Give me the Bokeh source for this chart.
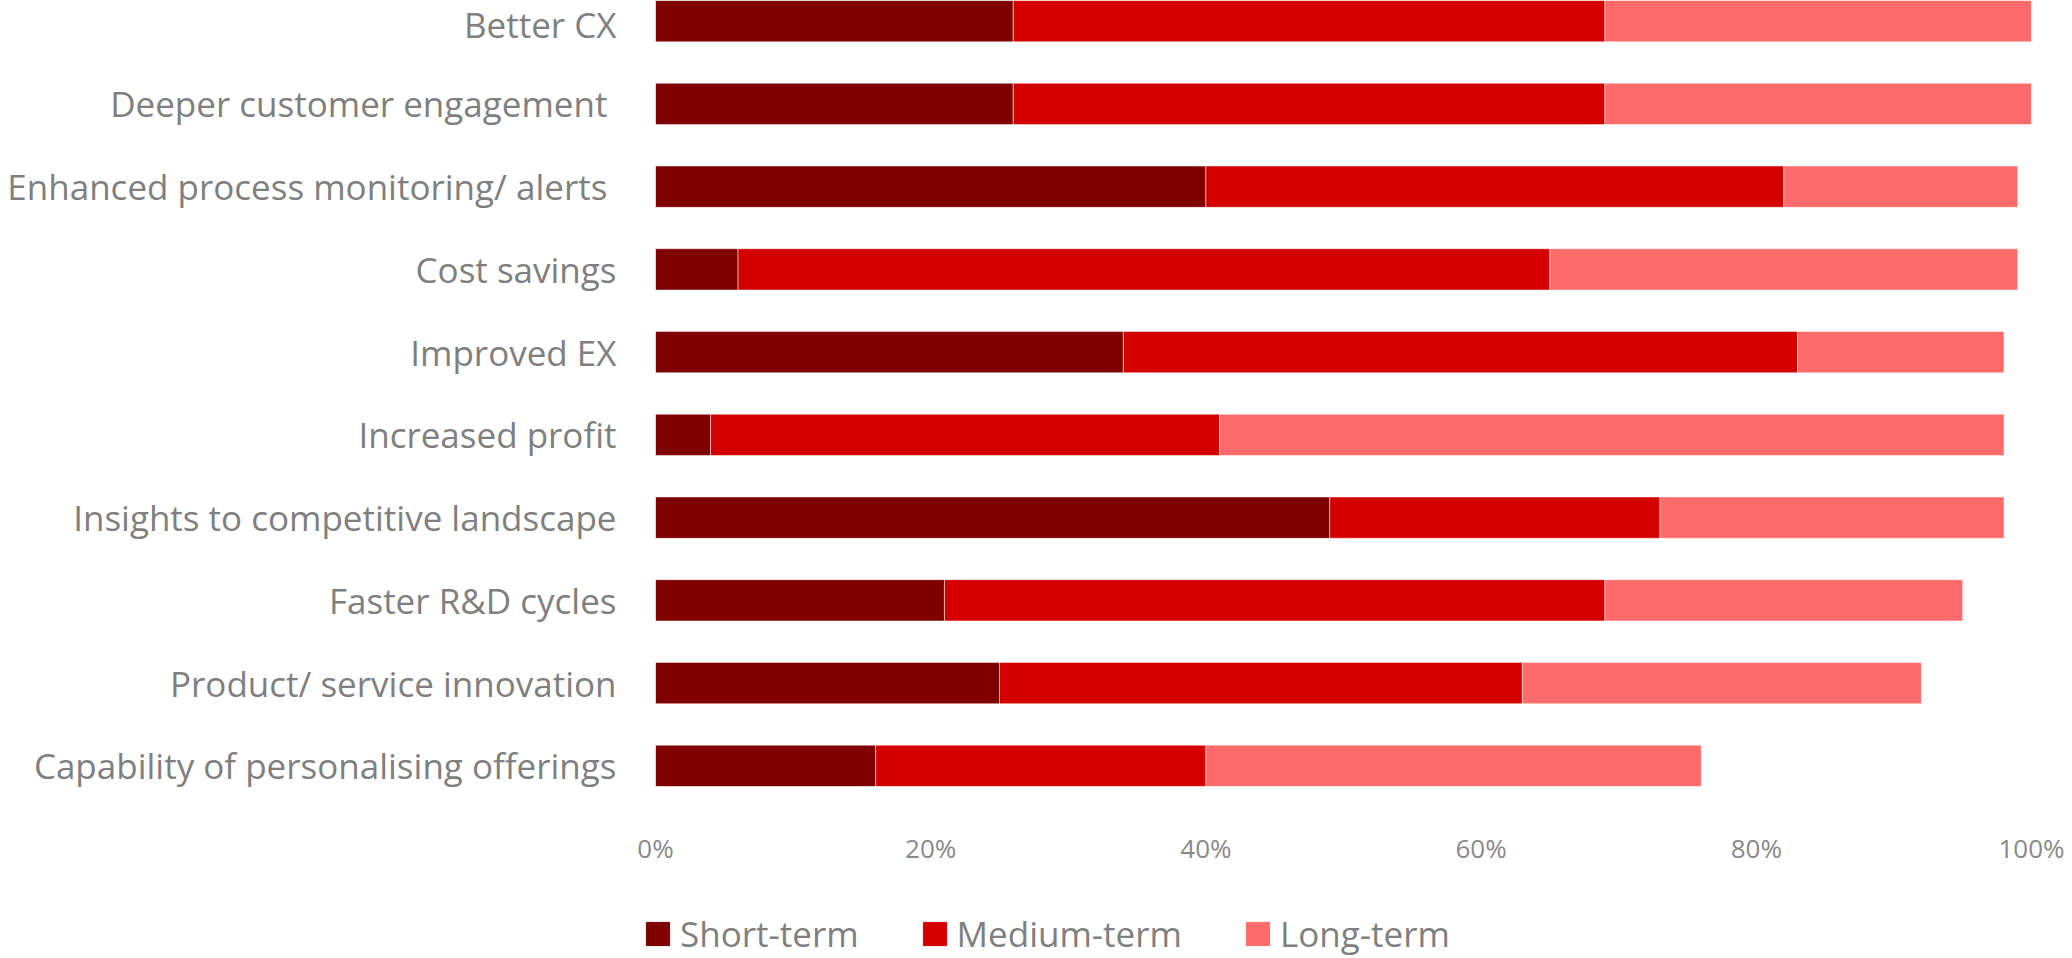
from bokeh.plotting import figure
from bokeh.layouts import column, row
from bokeh.models import FactorRange, Range1d, Legend, LegendItem, NumeralTickFormatter, FixedTicker
from bokeh.embed import file_html
from bokeh.resources import INLINE

categories = [
    "Better CX",
    "Deeper customer engagement ",
    "Enhanced process monitoring/ alerts ",
    "Cost savings",
    "Improved EX",
    "Increased profit",
    "Insights to competitive landscape",
    "Faster R&D cycles",
    "Product/ service innovation",
    "Capability of personalising offerings",
]
short_term = [0.26, 0.26, 0.40, 0.06, 0.34, 0.04, 0.49, 0.21, 0.25, 0.16]
medium_term = [0.43, 0.43, 0.42, 0.59, 0.49, 0.37, 0.24, 0.48, 0.38, 0.24]
long_term = [0.31, 0.31, 0.17, 0.34, 0.15, 0.57, 0.25, 0.26, 0.29, 0.36]
series = ["Short-term", "Medium-term", "Long-term"]
colors = ["#800000", "#D40000", "#FF6B6B"]
x_ticks = [0, 0.2, 0.4, 0.6, 0.8, 1.0]

FONT = "Open Sans"
GRAY = "#7F7F7F"

data = dict(cat=categories, s=short_term, m=medium_term, l=long_term)

fig = figure(
    width=2072, height=880,
    y_range=FactorRange(factors=list(reversed(categories)), range_padding=-0.25,
                        range_padding_units="absolute"),
    x_range=Range1d(0, 1),
    output_backend="svg", toolbar_location=None,
    min_border_left=655, min_border_right=41, min_border_top=0, min_border_bottom=94,
)
fig.outline_line_color = None
fig.background_fill_color = "white"
fig.border_fill_color = "white"
fig.grid.visible = False

fig.hbar_stack(["s", "m", "l"], y="cat", height=0.5, color=colors, source=data,
               line_color="white", line_alpha=0.5, line_width=1)

fig.xaxis.ticker = FixedTicker(ticks=x_ticks)
fig.xaxis.formatter = NumeralTickFormatter(format="0%")
for ax in (fig.xaxis[0], fig.yaxis[0]):
    ax.axis_line_color = None
    ax.major_tick_line_color = None
    ax.minor_tick_line_color = None
    ax.major_tick_out = 0
    ax.major_tick_in = 0
    ax.major_label_text_font = FONT
    ax.major_label_text_color = GRAY

fig.xaxis.major_label_text_font_size = "26px"
fig.xaxis.major_label_text_color = "#898989"
fig.xaxis.major_label_standoff = 43
fig.yaxis.major_label_text_font_size = "35px"
fig.yaxis.major_label_standoff = 39

# legend strip below the chart
leg_fig = figure(
    width=2072, height=78, x_axis_type=None, y_axis_type=None,
    x_range=Range1d(5, 6), y_range=FactorRange(factors=list(reversed(categories))),
    output_backend="svg", toolbar_location=None,
    min_border_left=0, min_border_right=0, min_border_top=0, min_border_bottom=0,
)
leg_fig.outline_line_color = None
leg_fig.grid.visible = False
proxies = leg_fig.hbar_stack(["s", "m", "l"], y="cat", height=0.5, color=colors, source=data)
for r in proxies:
    r.visible = False

legend = Legend(
    items=[LegendItem(label=n, renderers=[r]) for n, r in zip(series, proxies)],
    orientation="horizontal",
    location=(643, 1),
    glyph_width=29, glyph_height=29,
    label_standoff=8, spacing=61,
    padding=0, margin=0,
    border_line_color=None, background_fill_alpha=0,
    label_text_font=FONT, label_text_font_size="35px", label_text_color=GRAY,
)
leg_fig.add_layout(legend, "center")

p = column(fig, row(leg_fig), spacing=0)

open("out.html", "w").write(file_html(p, INLINE))
